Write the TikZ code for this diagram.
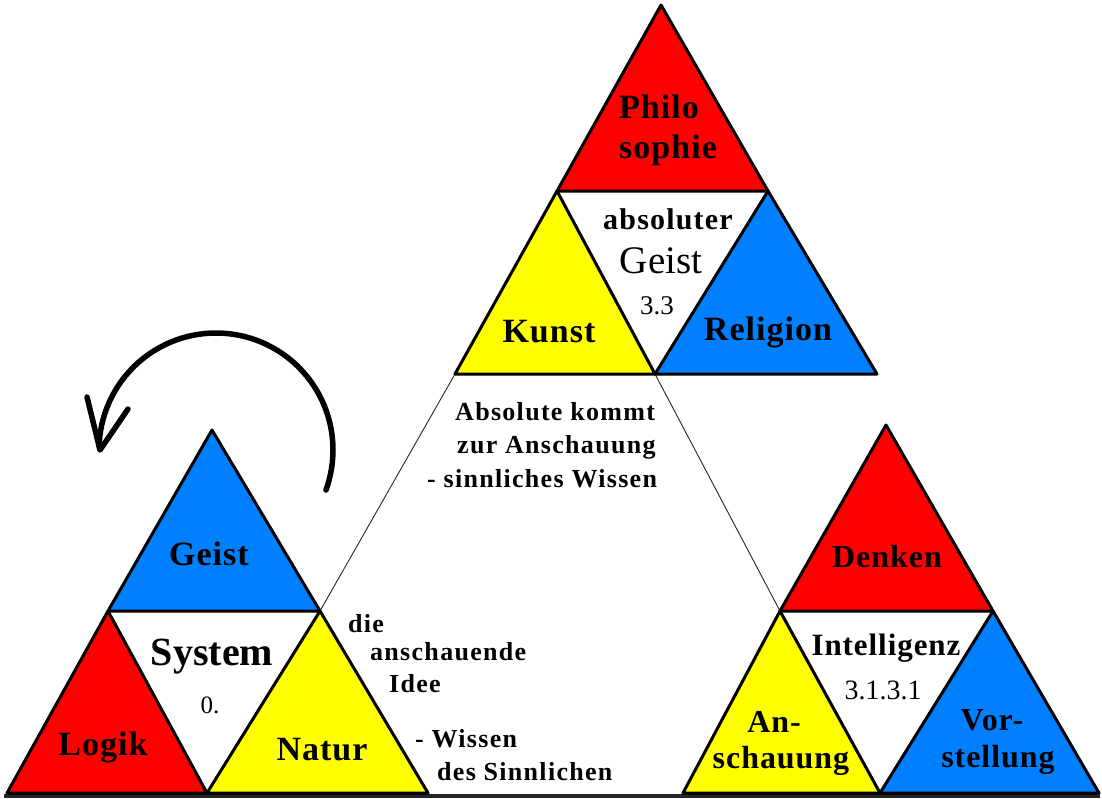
\documentclass[tikz,border=0pt]{standalone}
\usepackage{fontspec}
\setmainfont{Liberation Serif}
\newfontfamily\labfont[LetterSpace=3]{Liberation Serif}
\newfontfamily\txtfont[LetterSpace=5]{Liberation Serif}
\newfontfamily\widefont[LetterSpace=4]{Liberation Serif}
\definecolor{hred}{RGB}{255,0,0}
\definecolor{hyellow}{RGB}{255,255,0}
\definecolor{hblue}{RGB}{0,128,255}
\begin{document}
\begin{tikzpicture}[x=1pt,y=-1pt,
  tri/.style={draw=black, line width=3pt, line join=round},
  thinline/.style={draw=black!85, line width=0.9pt},
  lab/.style={font=\labfont\bfseries\fontsize{34}{38}\selectfont, anchor=base, inner sep=0pt},
  labr/.style={font=\labfont\bfseries\fontsize{32}{36}\selectfont, anchor=base, inner sep=0pt},
  txt/.style={font=\txtfont\bfseries\fontsize{26}{30}\selectfont, anchor=base west, inner sep=0pt},
  num/.style={font=\fontsize{27}{30}\selectfont, anchor=base, inner sep=0pt},
  arrowline/.style={line width=5.5pt, line cap=round, line join=round}]
\useasboundingbox[fill=white] (0,0) rectangle (1102,798);

% coordinates of the three groups
\coordinate (tA) at (661,5);   \coordinate (tML) at (557,191); \coordinate (tMR) at (768,191);
\coordinate (tBL) at (455,374); \coordinate (tBM) at (655,374); \coordinate (tBR) at (877,374);
\coordinate (lA) at (212,430);  \coordinate (lML) at (108,611); \coordinate (lMR) at (320,611);
\coordinate (lBL) at (7,793);   \coordinate (lBM) at (207,793); \coordinate (lBR) at (428,793);
\coordinate (rA) at (886,425);  \coordinate (rML) at (780,611); \coordinate (rMR) at (993,611);
\coordinate (rBL) at (683,793); \coordinate (rBM) at (880,793); \coordinate (rBR) at (1099,793);

% thin connecting lines
\draw[thinline] (tBL) -- (lMR);
\draw[thinline] (tBM) -- (rML);

% bottom line
\coordinate (bl0) at (4,795.5); \coordinate (bl1) at (1100,795.5);
\draw[line width=4pt, black!85] (bl0) -- (bl1);

% top group
\filldraw[tri, fill=hred] (tA) -- (tML) -- (tMR) -- cycle;
\filldraw[tri, fill=hyellow] (tML) -- (tBL) -- (tBM) -- cycle;
\filldraw[tri, fill=hblue] (tMR) -- (tBM) -- (tBR) -- cycle;
% left group
\filldraw[tri, fill=hblue] (lA) -- (lML) -- (lMR) -- cycle;
\filldraw[tri, fill=hred] (lML) -- (lBL) -- (lBM) -- cycle;
\filldraw[tri, fill=hyellow] (lMR) -- (lBM) -- (lBR) -- cycle;
% right group
\filldraw[tri, fill=hred] (rA) -- (rML) -- (rMR) -- cycle;
\filldraw[tri, fill=hyellow] (rML) -- (rBL) -- (rBM) -- cycle;
\filldraw[tri, fill=hblue] (rMR) -- (rBM) -- (rBR) -- cycle;

% circular arrow
\draw[arrowline] plot[domain=20:-178, samples=90] ({216+117*cos(\x)},{450+117*sin(\x)});
\coordinate (tip) at (100,450);
\coordinate (arm1) at (87,397);
\coordinate (arm2) at (128,409);
\draw[arrowline] (arm1) -- (tip) -- (arm2);

% top group labels
\node[lab, anchor=base west] (philo) at (619,118) {Philo};
\node[lab, anchor=base west] (sophie) at (619,158) {sophie};
\node[font=\widefont\bfseries\fontsize{30}{33}\selectfont, anchor=base, inner sep=0pt] (absoluter) at (668,229) {absoluter};
\node[font=\fontsize{39}{42}\selectfont, anchor=base, inner sep=0pt] (ageist) at (661,273) {Geist};
\node[num] (n33) at (657,314) {3.3};
\node[lab] (kunst) at (549,342) {Kunst};
\node[lab] (religion) at (768,340) {Religion};

% left group labels
\node[lab] (geist) at (209,565) {Geist};
\node[font=\bfseries\fontsize{40}{44}\selectfont, anchor=base, inner sep=0pt] (system) at (212,665) {System};
\node[font=\fontsize{25}{28}\selectfont, anchor=base, inner sep=0pt] (n0) at (210,713) {0.};
\node[lab] (logik) at (103,755) {Logik};
\node[lab] (natur) at (322,760) {Natur};

% right group labels
\node[labr] (denken) at (887,567) {Denken};
\node[font=\labfont\bfseries\fontsize{31}{34}\selectfont, anchor=base, inner sep=0pt] (intell) at (886,655) {Intelligenz};
\node[num, font=\fontsize{28}{30}\selectfont] (n3131) at (883,699) {3.1.3.1};
\node[labr] (an) at (774,732) {An-};
\node[labr] (schauung) at (781,768) {schauung};
\node[labr] (vor) at (992,730) {Vor-};
\node[labr] (stellung) at (998,767) {stellung};

% explanatory texts
\node[txt] (abs1) at (455,420) {Absolute kommt};
\node[txt] (abs2) at (457,453) {zur Anschauung};
\node[txt] (abs3) at (427,487) {- sinnliches Wissen};
\node[txt] (die) at (348,632) {die};
\node[txt] (ansch) at (370,660) {anschauende};
\node[txt] (idee) at (389,692) {Idee};
\node[txt] (wissen) at (415,747) {- Wissen};
\node[txt] (sinnl) at (437,780) {des Sinnlichen};
\end{tikzpicture}
\end{document}
